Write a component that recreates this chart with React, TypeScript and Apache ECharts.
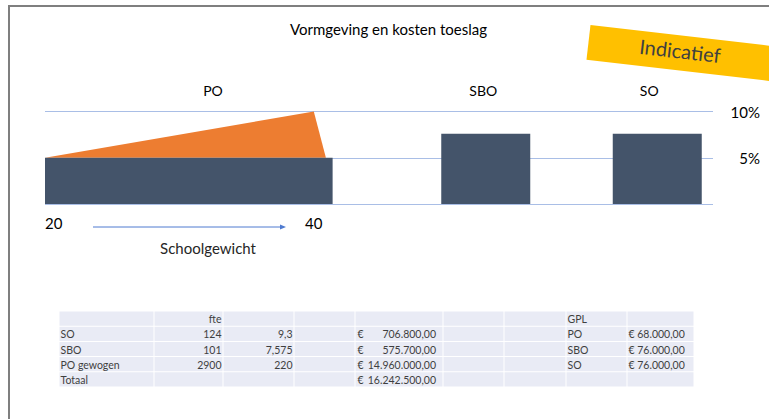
import React, { useEffect, useRef } from 'react';
import * as echarts from 'echarts';

// ---- chart data ----
const categories = ['PO', 'SBO', 'SO'];
const toeslag = [5, 7.6, 7.6]; // toeslag in %
const poRange = [20, 41.4]; // schoolgewicht span of the PO block
const poOrange = [
  [20, 5],
  [40, 10],
  [40.9, 5],
]; // extra toeslag rising with schoolgewicht
const yMax = 10;
const yInterval = 5;

// ---- table data ----
const tableHead = ['', 'fte', '', '', '', '', '', 'GPL', ''];
const rowNames = ['SO', 'SBO', 'PO gewogen', 'Totaal'];
const leerlingen = ['124', '101', '2900', ''];
const fte = ['9,3', '7,575', '220', ''];
const kosten = ['706.800,00', '575.700,00', '14.960.000,00', '16.242.500,00'];
const gplSoort = ['PO', 'SBO', 'SO', ''];
const gplBedrag = ['68.000,00', '76.000,00', '76.000,00', ''];

// layout of table columns (widths in px)
const colEdges = [0, 95, 164, 235, 296, 384, 445, 507, 568, 635];

type Cell = { c: number; r: number; text: string; align: 'left' | 'right' | 'euro' };

function buildCells(): Cell[] {
  const cells: Cell[] = [];
  tableHead.forEach((t, c) => cells.push({ c, r: 0, text: t, align: c === 1 ? 'right' : 'left' }));
  rowNames.forEach((name, i) => {
    const r = i + 1;
    const row: [string, Cell['align']][] = [
      [name, 'left'],
      [leerlingen[i], 'right'],
      [fte[i], 'right'],
      ['', 'left'],
      [kosten[i], 'euro'],
      ['', 'left'],
      ['', 'left'],
      [gplSoort[i], 'left'],
      [gplBedrag[i] ? '€ ' + gplBedrag[i] : '', 'left'],
    ];
    row.forEach(([text, align], c) => cells.push({ c, r, text, align }));
  });
  return cells;
}

const FONT = 'Lato';
const DARK = '#44546A';
const ORANGE = '#ED7D31';
const GRIDLINE = '#A9BEE6';

export default function App() {
  const ref = useRef<HTMLDivElement>(null);

  useEffect(() => {
    document.body.style.margin = '0';
    if (!ref.current) return;
    const chart = echarts.init(ref.current, undefined, { renderer: 'svg' });
    const cells = buildCells();
    const txt = '#3F3F3F';

    const option: any = {
      animation: false,
      textStyle: { fontFamily: FONT },
      title: {
        text: 'Vormgeving en kosten toeslag',
        left: 290,
        top: 21,
        padding: 0,
        textStyle: { fontSize: 15, fontWeight: 'normal', color: '#000', fontFamily: FONT },
      },
      grid: [
        { left: 45, top: 111.5, width: 336, height: 92.5 },
        { left: 400, top: 111.5, width: 343, height: 92.5 },
        { left: 45, top: 111.5, width: 668, height: 92.5 },
        { left: 59, top: 311, width: 635, height: 76 },
      ],
      xAxis: [
        {
          gridIndex: 0,
          type: 'value',
          min: poRange[0],
          max: 45,
          interval: 20,
          axisLine: { show: false },
          axisTick: { show: false },
          splitLine: { show: false },
          axisLabel: {
            margin: 11,
            fontSize: 15,
            color: '#000',
            fontFamily: FONT,
            alignMinLabel: 'left',
            showMaxLabel: false,
          },
          name: 'Schoolgewicht',
          nameLocation: 'middle',
          nameGap: 36,
          nameTextStyle: {
            fontSize: 15,
            color: '#262626',
            fontFamily: FONT,
            verticalAlign: 'top',
            padding: [0, 10, 0, 0],
          },
        },
        {
          gridIndex: 0,
          type: 'category',
          data: categories.slice(0, 1),
          position: 'top',
          axisLine: { show: false },
          axisTick: { show: false },
          axisLabel: { margin: 14, fontSize: 14, color: '#000', fontFamily: FONT },
        },
        {
          gridIndex: 1,
          type: 'category',
          data: [
            { value: categories[1], textStyle: { padding: [0, 5, 0, 0] } },
            { value: categories[2], textStyle: { padding: [0, 16, 0, 0] } },
          ],
          position: 'top',
          axisLine: { show: false },
          axisTick: { show: false },
          axisLabel: { margin: 14, fontSize: 14, color: '#000', fontFamily: FONT },
        },
        { gridIndex: 2, type: 'value', min: 0, max: 1, show: false },
        { gridIndex: 3, type: 'value', min: 0, max: colEdges[colEdges.length - 1], show: false },
      ],
      yAxis: [
        { gridIndex: 0, type: 'value', min: 0, max: yMax, show: false },
        { gridIndex: 1, type: 'value', min: 0, max: yMax, show: false },
        {
          gridIndex: 2,
          type: 'value',
          min: 0,
          max: yMax,
          interval: yInterval,
          position: 'right',
          axisLine: { show: false },
          axisTick: { show: false },
          splitLine: { show: true, lineStyle: { color: GRIDLINE, width: 1 } },
          axisLabel: {
            formatter: (v: number) => (v === 0 ? '' : v + '%'),
            align: 'right',
            margin: 47,
            fontSize: 15,
            color: '#000',
            fontFamily: FONT,
          },
        },
        { gridIndex: 3, type: 'value', min: 0, max: rowNames.length + 1, inverse: true, show: false },
      ],
      series: [
        {
          type: 'custom',
          name: 'PO extra',
          xAxisIndex: 0,
          yAxisIndex: 0,
          silent: true,
          clip: false,
          data: poOrange,
          encode: { x: 0, y: 1 },
          renderItem: (params: any, api: any) => {
            if (params.dataIndex !== 0) return null;
            const pts = poOrange.map((p) => api.coord(p));
            return { type: 'polygon', shape: { points: pts }, style: { fill: ORANGE } };
          },
        },
        {
          type: 'custom',
          name: 'PO',
          xAxisIndex: 0,
          yAxisIndex: 0,
          silent: true,
          clip: false,
          data: [[poRange[0], poRange[1], toeslag[0]]],
          encode: { x: [0, 1], y: 2 },
          renderItem: (params: any, api: any) => {
            const p0 = api.coord([api.value(0), api.value(2)]);
            const p1 = api.coord([api.value(1), 0]);
            return {
              type: 'rect',
              shape: { x: p0[0], y: p0[1], width: p1[0] - p0[0], height: p1[1] - p0[1] },
              style: { fill: DARK },
            };
          },
        },
        {
          type: 'bar',
          name: 'SBO/SO',
          xAxisIndex: 2,
          yAxisIndex: 1,
          silent: true,
          barWidth: 89,
          data: toeslag.slice(1),
          itemStyle: { color: DARK },
        },
        {
          type: 'custom',
          name: 'tabel',
          xAxisIndex: 4,
          yAxisIndex: 3,
          silent: true,
          clip: false,
          data: cells.map((cell) => [colEdges[cell.c], cell.r]),
          encode: { x: 0, y: 1 },
          renderItem: (params: any, api: any) => {
            const cell = cells[params.dataIndex];
            const p0 = api.coord([colEdges[cell.c], cell.r]);
            const p1 = api.coord([colEdges[cell.c + 1], cell.r + 1]);
            const x0 = p0[0];
            const x1 = p1[0];
            const y0 = p0[1];
            const y1 = p1[1];
            const yc = (y0 + y1) / 2 + 0.5;
            const children: any[] = [
              {
                type: 'rect',
                shape: { x: x0 + 0.5, y: y0 + 0.5, width: x1 - x0 - 1, height: y1 - y0 - 1 },
                style: { fill: '#E9EBF5' },
              },
            ];
            const base = { fill: txt, fontSize: 10.5, fontFamily: FONT, verticalAlign: 'middle' };
            if (cell.text) {
              if (cell.align === 'euro') {
                children.push({ type: 'text', style: { ...base, text: '€', x: x0 + 2.5, y: yc, align: 'left' } });
                children.push({ type: 'text', style: { ...base, text: cell.text, x: x1 - 7, y: yc, align: 'right' } });
              } else if (cell.align === 'right') {
                children.push({ type: 'text', style: { ...base, text: cell.text, x: x1 - 1.5, y: yc, align: 'right' } });
              } else {
                children.push({ type: 'text', style: { ...base, text: cell.text, x: x0 + 1.5, y: yc, align: 'left' } });
              }
            }
            return { type: 'group', children };
          },
        },
      ],
      graphic: [
        {
          type: 'polyline',
          shape: { points: [[9, 419], [9, 6], [769, 6]] },
          style: { stroke: '#7F7F7F', lineWidth: 2, fill: 'none' },
          silent: true,
        },
        {
          type: 'group',
          x: 590.5,
          y: 25,
          rotation: -0.115,
          silent: true,
          children: [
            { type: 'rect', shape: { x: 0, y: 0, width: 220, height: 35 }, style: { fill: '#FFC000' } },
            {
              type: 'text',
              x: 92,
              y: 15,
              style: {
                text: 'Indicatief',
                fontSize: 20,
                fontFamily: FONT,
                fill: '#404040',
                align: 'center',
                verticalAlign: 'middle',
              },
            },
          ],
        },
        {
          type: 'line',
          shape: { x1: 93, y1: 227, x2: 281, y2: 227 },
          style: { stroke: '#4F7BD0', lineWidth: 1 },
          silent: true,
        },
        {
          type: 'polygon',
          shape: { points: [[280, 224.5], [286, 227], [280, 229.5]] },
          style: { fill: '#4F7BD0' },
          silent: true,
        },
      ],
    };

    chart.setOption(option);
    return () => chart.dispose();
  }, []);

  return <div ref={ref} style={{ width: 769, height: 419 }} />;
}
